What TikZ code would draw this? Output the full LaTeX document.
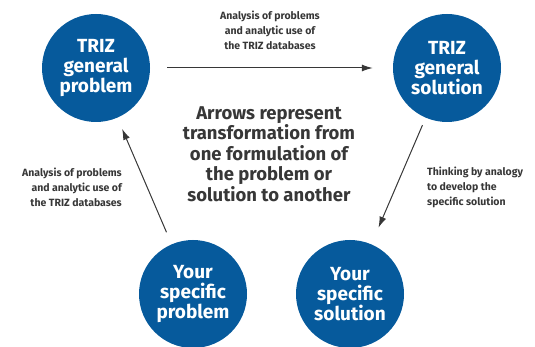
\documentclass[tikz,border=0pt]{standalone}
\usepackage{fontspec}
\setmainfont{Fira Sans}
\usetikzlibrary{arrows.meta}
\definecolor{trizblue}{RGB}{6,90,156}
\definecolor{inkgrey}{RGB}{55,55,55}

\begin{document}
\begin{tikzpicture}[x=1pt, y=-1pt,
    blob/.style={circle, fill=trizblue, text=white, minimum size=108pt, inner sep=0pt,
      align=center, font=\fontsize{19}{20}\selectfont\bfseries},
    note/.style={text=inkgrey, font=\fontsize{10.5}{15}\selectfont\bfseries, inner sep=0pt},
    link/.style={draw=inkgrey, line width=1pt, -{Latex[length=11pt, width=7pt]}}]
    \useasboundingbox (0,0) rectangle (535,347);
    \node[blob] (gp) at (96,68)  {TRIZ\\general\\problem};
    \node[blob] (gs) at (447,68) {TRIZ\\general\\solution};
    \node[blob] (yp) at (193,294) {Your\\specific\\problem};
    \node[blob] (ys) at (350,294) {Your\\specific\\solution};
    \draw[link, shorten <=17pt, shorten >=20pt] (gp) -- (gs);
    \draw[link, shorten <=13pt, shorten >=12pt] (yp) -- (gp);
    \draw[link, shorten <=8pt, shorten >=18pt] (gs) -- (ys);
    \node[note, align=center] (top) at (270,30) {Analysis of problems\\and analytic use of\\the TRIZ databases};
    \node[note, align=right, anchor=east] (left) at (122,187) {Analysis of problems\\and analytic use of\\the TRIZ databases};
    \node[note, align=left, anchor=west] (right) at (427,187) {Thinking by analogy\\to develop the\\specific solution};
    \node[text=inkgrey, font=\fontsize{18.5}{20.5}\selectfont\bfseries, align=center] (key) at (269,154)
      {Arrows represent\\transformation from\\one formulation of\\the problem or\\solution to another};
  \end{tikzpicture}
\end{document}
